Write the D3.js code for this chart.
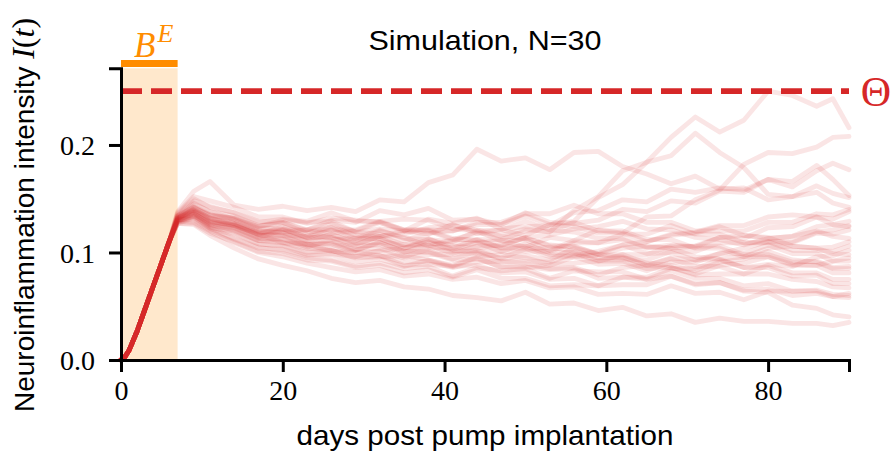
<!DOCTYPE html>
<html><head><meta charset="utf-8">
<script src="https://cdn.jsdelivr.net/npm/d3@7"></script>
<style>body{margin:0;background:#fff}svg{display:block}</style>
</head><body>
<script>
// ---------- data ----------
const title = "Simulation, N=30";
const xLabel = "days post pump implantation";
const yLabelText = "Neuroinflammation intensity ";
const xTicks = [0, 20, 40, 60, 80];
const yTicks = [0.0, 0.1, 0.2];
const xDomain = [0, 90];
const yDomain = [0, 0.2713];
const threshold = 0.25;          // Θ
const exposureWindow = [0, 7];   // B^E
// shared rise during exposure (all simulations overlap)
const riseDays = [0, 0.5, 1, 1.5, 2, 3, 4, 5, 6];
const riseValues = [0, 0.003, 0.009, 0.018, 0.027, 0.048, 0.069, 0.09, 0.111];
// sampling days after the exposure window
const days = [7,9,11,14,17,20,23,26,29,32,35,38,41,44,47,50,53,56,59,62,65,68,71,74,77,80,83,86,88,90];
const sim00 = [0.132,0.139,0.131,0.127,0.119,0.121,0.113,0.116,0.111,0.12,0.114,0.106,0.112,0.118,0.116,0.122,0.119,0.139,0.152,0.176,0.184,0.207,0.226,0.212,0.223,0.25,0.246,0.236,0.243,0.216];
const sim01 = [0.138,0.157,0.166,0.144,0.14,0.143,0.139,0.142,0.138,0.149,0.147,0.165,0.172,0.196,0.185,0.188,0.177,0.193,0.194,0.18,0.173,0.164,0.171,0.159,0.16,0.149,0.152,0.156,0.146,0.142];
const sim02 = [0.134,0.146,0.138,0.134,0.125,0.127,0.118,0.124,0.116,0.115,0.12,0.117,0.126,0.118,0.121,0.116,0.126,0.129,0.151,0.163,0.184,0.19,0.211,0.193,0.179,0.154,0.152,0.162,0.155,0.151];
const sim03 = [0.13,0.137,0.126,0.121,0.111,0.112,0.107,0.109,0.102,0.11,0.107,0.113,0.103,0.109,0.111,0.105,0.114,0.111,0.121,0.118,0.133,0.134,0.149,0.158,0.182,0.193,0.192,0.198,0.207,0.208];
const sim04 = [0.131,0.145,0.138,0.131,0.124,0.128,0.121,0.13,0.128,0.139,0.135,0.141,0.13,0.131,0.126,0.137,0.128,0.127,0.13,0.14,0.138,0.148,0.146,0.157,0.156,0.168,0.161,0.176,0.183,0.177];
const sim05 = [0.131,0.141,0.135,0.132,0.124,0.13,0.128,0.129,0.119,0.122,0.12,0.131,0.127,0.132,0.122,0.124,0.125,0.137,0.139,0.149,0.147,0.159,0.156,0.16,0.158,0.168,0.166,0.181,0.168,0.153];
const sim06 = [0.127,0.126,0.116,0.104,0.094,0.088,0.083,0.076,0.072,0.074,0.068,0.066,0.06,0.058,0.055,0.063,0.052,0.053,0.046,0.049,0.041,0.043,0.035,0.039,0.036,0.036,0.034,0.034,0.032,0.035];
const sim07 = [0.13,0.133,0.123,0.113,0.105,0.101,0.095,0.093,0.087,0.09,0.085,0.087,0.078,0.086,0.083,0.085,0.076,0.083,0.082,0.082,0.075,0.078,0.07,0.072,0.064,0.063,0.051,0.048,0.042,0.04];
const sim08 = [0.129,0.135,0.124,0.118,0.108,0.106,0.098,0.099,0.096,0.097,0.088,0.089,0.087,0.095,0.086,0.087,0.084,0.085,0.076,0.077,0.075,0.083,0.076,0.076,0.069,0.071,0.064,0.064,0.059,0.058];
const sim09 = [0.133,0.142,0.133,0.13,0.12,0.119,0.111,0.111,0.103,0.104,0.096,0.103,0.101,0.102,0.094,0.097,0.093,0.104,0.098,0.096,0.088,0.095,0.093,0.094,0.086,0.089,0.087,0.096,0.097,0.102];
const sim10 = [0.132,0.138,0.129,0.126,0.116,0.116,0.115,0.123,0.114,0.113,0.104,0.112,0.11,0.12,0.111,0.112,0.102,0.111,0.109,0.112,0.104,0.107,0.105,0.114,0.113,0.123,0.124,0.133,0.131,0.138];
const sim11 = [0.127,0.132,0.122,0.117,0.108,0.106,0.1,0.102,0.095,0.096,0.097,0.093,0.088,0.096,0.098,0.095,0.089,0.09,0.092,0.098,0.09,0.088,0.083,0.091,0.094,0.101,0.093,0.091,0.085,0.085];
const sim12 = [0.136,0.15,0.142,0.137,0.129,0.128,0.12,0.118,0.12,0.128,0.121,0.121,0.113,0.111,0.105,0.106,0.098,0.097,0.101,0.107,0.099,0.1,0.093,0.099,0.104,0.11,0.11,0.119,0.121,0.125];
const sim13 = [0.131,0.137,0.128,0.123,0.113,0.11,0.104,0.102,0.096,0.102,0.104,0.11,0.102,0.1,0.095,0.103,0.105,0.101,0.095,0.095,0.088,0.086,0.08,0.088,0.09,0.096,0.089,0.088,0.092,0.095];
const sim14 = [0.13,0.136,0.127,0.125,0.117,0.124,0.116,0.114,0.108,0.115,0.117,0.123,0.125,0.121,0.115,0.113,0.107,0.105,0.099,0.107,0.11,0.116,0.118,0.124,0.116,0.113,0.115,0.124,0.126,0.129];
const sim15 = [0.133,0.14,0.132,0.125,0.117,0.109,0.108,0.101,0.1,0.097,0.091,0.092,0.086,0.091,0.092,0.09,0.085,0.086,0.079,0.086,0.088,0.094,0.087,0.087,0.08,0.08,0.075,0.073,0.068,0.067];
const sim16 = [0.129,0.134,0.125,0.122,0.113,0.113,0.105,0.112,0.113,0.121,0.113,0.112,0.106,0.104,0.107,0.114,0.116,0.122,0.124,0.129,0.122,0.121,0.114,0.112,0.107,0.113,0.115,0.12,0.115,0.113];
const sim17 = [0.134,0.143,0.135,0.131,0.122,0.122,0.114,0.121,0.121,0.129,0.131,0.13,0.122,0.12,0.121,0.129,0.121,0.119,0.113,0.113,0.105,0.104,0.106,0.114,0.116,0.114,0.106,0.104,0.105,0.11];
const sim18 = [0.128,0.133,0.123,0.12,0.111,0.109,0.103,0.103,0.102,0.109,0.101,0.1,0.093,0.094,0.087,0.086,0.088,0.096,0.098,0.104,0.106,0.104,0.096,0.094,0.096,0.104,0.106,0.104,0.099,0.098];
const sim19 = [0.132,0.139,0.13,0.127,0.119,0.119,0.121,0.127,0.119,0.117,0.111,0.118,0.12,0.126,0.126,0.134,0.126,0.124,0.118,0.118,0.11,0.117,0.119,0.125,0.125,0.133,0.135,0.133,0.126,0.124];
const sim20 = [0.129,0.128,0.12,0.109,0.1,0.096,0.09,0.086,0.082,0.084,0.078,0.08,0.075,0.077,0.071,0.074,0.067,0.068,0.061,0.062,0.061,0.069,0.062,0.063,0.056,0.064,0.064,0.065,0.061,0.06];
const sim21 = [0.131,0.138,0.129,0.125,0.116,0.115,0.107,0.107,0.107,0.115,0.107,0.107,0.099,0.106,0.106,0.114,0.106,0.106,0.098,0.098,0.098,0.106,0.106,0.106,0.098,0.098,0.091,0.092,0.086,0.087];
const sim22 = [0.135,0.148,0.143,0.137,0.128,0.131,0.129,0.137,0.129,0.129,0.121,0.121,0.12,0.128,0.128,0.136,0.136,0.144,0.136,0.136,0.128,0.128,0.12,0.12,0.12,0.128,0.128,0.136,0.135,0.14];
const sim23 = [0.127,0.127,0.118,0.11,0.101,0.099,0.093,0.092,0.086,0.088,0.081,0.084,0.077,0.084,0.076,0.076,0.069,0.07,0.069,0.077,0.077,0.085,0.085,0.093,0.086,0.086,0.078,0.079,0.071,0.071];
const sim24 = [0.134,0.142,0.134,0.132,0.123,0.122,0.114,0.114,0.106,0.107,0.1,0.108,0.108,0.109,0.101,0.101,0.101,0.109,0.109,0.117,0.117,0.125,0.117,0.117,0.109,0.109,0.109,0.118,0.117,0.121];
const sim25 = [0.13,0.136,0.128,0.126,0.118,0.118,0.11,0.117,0.109,0.109,0.101,0.101,0.094,0.101,0.101,0.108,0.1,0.1,0.093,0.094,0.093,0.101,0.101,0.109,0.109,0.11,0.102,0.102,0.101,0.106];
const sim26 = [0.132,0.14,0.132,0.127,0.118,0.116,0.108,0.108,0.1,0.101,0.095,0.098,0.098,0.099,0.091,0.092,0.091,0.099,0.092,0.092,0.085,0.086,0.079,0.08,0.08,0.088,0.081,0.081,0.075,0.075];
const sim27 = [0.129,0.134,0.126,0.123,0.114,0.121,0.121,0.121,0.113,0.113,0.105,0.105,0.104,0.112,0.104,0.104,0.096,0.096,0.089,0.09,0.083,0.091,0.091,0.099,0.099,0.107,0.099,0.099,0.092,0.092];
const sim28 = [0.137,0.152,0.148,0.142,0.133,0.133,0.127,0.132,0.13,0.128,0.12,0.12,0.112,0.112,0.112,0.12,0.12,0.128,0.12,0.12,0.112,0.112,0.104,0.104,0.096,0.096,0.088,0.088,0.081,0.081];
const sim29 = [0.13,0.131,0.121,0.112,0.104,0.103,0.097,0.098,0.091,0.094,0.087,0.093,0.087,0.088,0.081,0.082,0.075,0.076,0.069,0.07,0.07,0.078,0.071,0.072,0.065,0.066,0.06,0.062,0.059,0.062];
const simulations = [sim00,sim01,sim02,sim03,sim04,sim05,sim06,sim07,sim08,sim09,sim10,sim11,sim12,sim13,sim14,sim15,sim16,sim17,sim18,sim19,sim20,sim21,sim22,sim23,sim24,sim25,sim26,sim27,sim28,sim29];

// ---------- drawing ----------
const W = 893, H = 454;
const M = {left: 121, right: 849, top: 68.3, bottom: 360};
const red = "#d62728", orange = "#ff8c00";
const serif = "'Liberation Serif', 'Times New Roman', serif";
const sans = "'Liberation Sans', Arial, sans-serif";

const svg = d3.select("body").append("svg").attr("width", W).attr("height", H);
const x = d3.scaleLinear().domain(xDomain).range([M.left, M.right]);
const y = d3.scaleLinear().domain(yDomain).range([M.bottom, M.top]);

// exposure shading
svg.append("rect")
  .attr("x", x(exposureWindow[0])).attr("y", M.top)
  .attr("width", x(exposureWindow[1]) - x(exposureWindow[0]))
  .attr("height", M.bottom - M.top)
  .attr("fill", orange).attr("fill-opacity", 0.2);

// trajectories
const line = d3.line().x(d => x(d[0])).y(d => y(d[1]));
const g = svg.append("g");
simulations.forEach(sim => {
  const pts = riseDays.map((d, i) => [d, riseValues[i]]).concat(days.map((d, i) => [d, sim[i]]));
  g.append("path").attr("d", line(pts))
    .attr("fill", "none").attr("stroke", red).attr("stroke-opacity", 0.12)
    .attr("stroke-width", 4.8).attr("stroke-linejoin", "round").attr("stroke-linecap", "round");
});

// threshold
svg.append("line")
  .attr("x1", x(xDomain[0])).attr("x2", x(xDomain[1]))
  .attr("y1", y(threshold)).attr("y2", y(threshold))
  .attr("stroke", red).attr("stroke-width", 5.7).attr("stroke-dasharray", "21,9");
svg.append("text").attr("x", 876).attr("y", y(threshold) + 15)
  .attr("text-anchor", "middle").attr("font-family", serif).attr("font-size", 42)
  .attr("fill", red).text("Θ");

// exposure bar + label
svg.append("rect")
  .attr("x", x(exposureWindow[0])).attr("y", 60)
  .attr("width", x(exposureWindow[1]) - x(exposureWindow[0])).attr("height", 7)
  .attr("fill", orange);
const be = svg.append("text").attr("x", 134).attr("y", 57)
  .attr("font-family", serif).attr("fill", orange);
be.append("tspan").attr("font-style", "italic").attr("font-size", 35).text("B");
be.append("tspan").attr("font-style", "italic").attr("font-size", 26).attr("dx", 2).attr("dy", -15).text("E");

// axes
const xAxis = svg.append("g").attr("transform", `translate(0,${M.bottom})`)
  .call(d3.axisBottom(x).tickValues(xTicks).tickFormat(d3.format("d")).tickSizeOuter(0).tickSize(12).tickPadding(8));
const yAxis = svg.append("g").attr("transform", `translate(${M.left},0)`)
  .call(d3.axisLeft(y).tickValues(yTicks).tickFormat(d3.format(".1f")).tickSizeOuter(0).tickSize(12).tickPadding(14));
[xAxis, yAxis].forEach(a => {
  a.select(".domain").attr("stroke", "#000").attr("stroke-width", 3);
  a.selectAll(".tick line").attr("stroke", "#000").attr("stroke-width", 3);
  a.selectAll(".tick text").attr("font-family", serif).attr("font-size", 28).attr("fill", "#000");
});
yAxis.selectAll(".tick text").attr("dy", "0.35em");

// title & labels
svg.append("text").attr("x", (M.left + M.right) / 2).attr("y", 50)
  .attr("text-anchor", "middle").attr("font-family", sans).attr("font-size", 28)
  .attr("textLength", 233).attr("lengthAdjust", "spacingAndGlyphs").text(title);
svg.append("text").attr("x", (M.left + M.right) / 2).attr("y", 445)
  .attr("text-anchor", "middle").attr("font-family", sans).attr("font-size", 28)
  .attr("textLength", 377).attr("lengthAdjust", "spacingAndGlyphs").text(xLabel);
const yl = svg.append("text").attr("transform", `translate(34,${215}) rotate(-90)`)
  .attr("text-anchor", "middle").attr("font-family", sans).attr("font-size", 28);
yl.append("tspan").text(yLabelText);
yl.append("tspan").attr("font-family", serif).attr("font-style", "italic").attr("font-size", 32).text("I");
yl.append("tspan").attr("font-family", serif).attr("font-size", 32).text("(");
yl.append("tspan").attr("font-family", serif).attr("font-style", "italic").attr("font-size", 32).text("t");
yl.append("tspan").attr("font-family", serif).attr("font-size", 32).text(")");
</script>
</body></html>
